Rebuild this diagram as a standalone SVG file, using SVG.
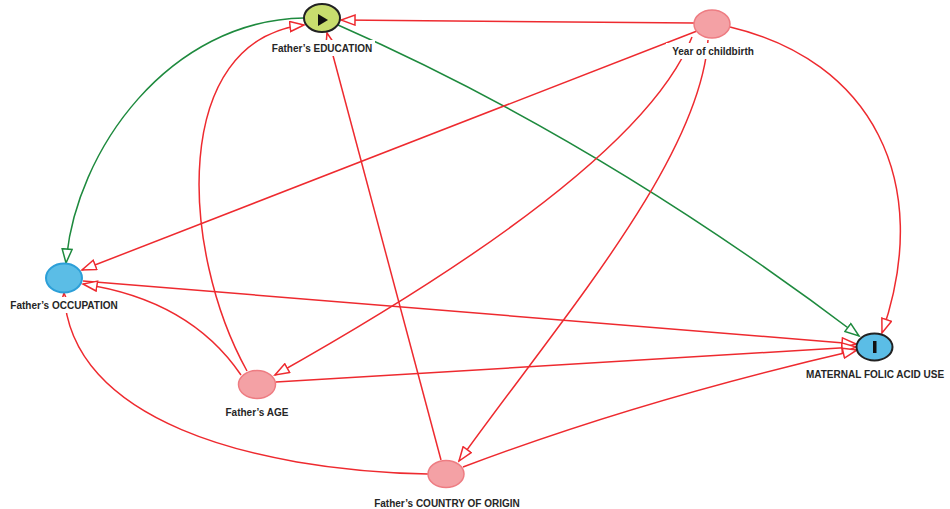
<svg xmlns="http://www.w3.org/2000/svg" width="950" height="509" viewBox="0 0 950 509">
<style>
.e{fill:none;stroke-width:1.5}
.r{stroke:#ee2a2f;marker-end:url(#ar)}
.g{stroke:#1e8a3e;marker-end:url(#ag)}
.lbl{font-family:"Liberation Sans",Arial,sans-serif;font-size:10px;font-weight:bold;fill:#262626;text-anchor:middle}
.bg{fill:#fff}
.adj{fill:#f4a1a5;stroke:#ee7c82;stroke-width:1.5}
</style>
<defs>
<marker id="ar" markerUnits="userSpaceOnUse" markerWidth="17" markerHeight="12" refX="15" refY="6" orient="auto">
<path d="M1,1 L15,6 L1,11 Z" fill="#fff" stroke="#ee2a2f" stroke-width="1.5"/>
</marker>
<marker id="ag" markerUnits="userSpaceOnUse" markerWidth="17" markerHeight="12" refX="15" refY="6" orient="auto">
<path d="M1,1 L15,6 L1,11 Z" fill="#fff" stroke="#1e8a3e" stroke-width="1.5"/>
</marker>
</defs>
<rect width="950" height="509" fill="#fff"/>
<g id="connectors">
<path class="e r" d="M694,23 L341,20"/>
<path class="e g" d="M304,18 C170,20 75,150 66,263"/>
<path class="e g" d="M338,25 Q600,140 859,336"/>
<path class="e r" d="M697,31 L82,270"/>
<path class="e r" d="M692,37 Q640,170 275,375"/>
<path class="e r" d="M708,40 C700,160 560,320 459,461"/>
<path class="e r" d="M730,27 C870,60 935,180 882,333"/>
<path class="e r" d="M247,371 C180,250 170,40 304,25"/>
<path class="e r" d="M441,460 L327,33"/>
<path class="e r" d="M83,281 L856,344"/>
<path class="e r" d="M241,375 Q190,300 83,284"/>
<path class="e r" d="M276,382 L856,347"/>
<path class="e r" d="M463,467 Q640,400 857,350"/>
<path class="e r" d="M428,474 C250,470 70,420 64,293"/>
</g>
<g id="n-education">
<ellipse cx="322" cy="18" rx="18" ry="14" fill="#c8dd6e" stroke="#222" stroke-width="2"/>
<polygon points="318,14 328,20 318,26" fill="#111"/>
<rect class="bg" x="269" y="40" width="106" height="16"/>
<text class="lbl" x="322" y="52">Father’s EDUCATION</text>
</g>
<g id="n-year">
<ellipse class="adj" cx="712" cy="24" rx="18" ry="14"/>
<rect class="bg" x="666" y="43" width="94" height="16"/>
<text class="lbl" x="713" y="55">Year of childbirth</text>
</g>
<g id="n-occupation">
<ellipse cx="64" cy="278" rx="18" ry="14.5" fill="#5bbde6" stroke="#2c9fd8" stroke-width="2"/>
<rect class="bg" x="6" y="297" width="116" height="16"/>
<text class="lbl" x="64" y="309">Father’s OCCUPATION</text>
</g>
<g id="n-folic">
<ellipse cx="874.5" cy="347" rx="18" ry="13.5" fill="#5bbde6" stroke="#222" stroke-width="2"/>
<rect x="873" y="341" width="3.5" height="12" fill="#111"/>
<rect class="bg" x="803" y="366" width="144" height="16"/>
<text class="lbl" x="875" y="378">MATERNAL FOLIC ACID USE</text>
</g>
<g id="n-age">
<ellipse class="adj" cx="257" cy="384.5" rx="18.5" ry="14"/>
<rect class="bg" x="223" y="404" width="68" height="16"/>
<text class="lbl" x="257" y="416">Father’s AGE</text>
</g>
<g id="n-country">
<ellipse class="adj" cx="446" cy="474" rx="18" ry="13.5"/>
<rect class="bg" x="370" y="495" width="154" height="14"/>
<text class="lbl" x="447" y="507">Father’s COUNTRY OF ORIGIN</text>
</g>
</svg>
